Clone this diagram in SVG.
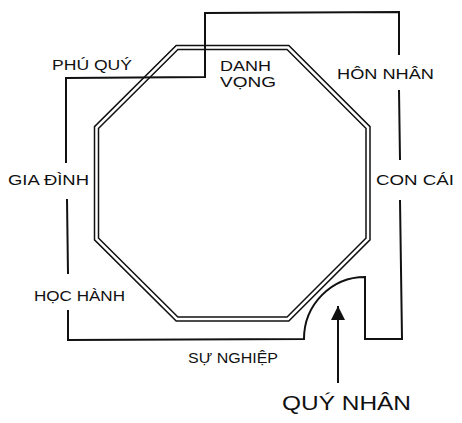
<svg xmlns="http://www.w3.org/2000/svg" width="462" height="423" viewBox="0 0 462 423">
<defs>
<style>
text{font-family:"Liberation Sans",Arial,sans-serif;font-size:15px;fill:#111;}
.big{font-size:21px;}
.wire{fill:none;stroke:#111;stroke-width:2;stroke-linejoin:miter;}
.oct-o{fill:none;stroke:#111;stroke-width:5.5;stroke-linejoin:miter;}
.oct-i{fill:none;stroke:#fff;stroke-width:2.5;stroke-linejoin:miter;}
</style>
<marker id="ah" viewBox="0 0 14 16" refX="14" refY="7" markerWidth="14" markerHeight="16" markerUnits="userSpaceOnUse" orient="auto">
<path d="M0,0 L14,7 L0,14 Z" fill="#111"/>
</marker>
</defs>
<rect width="462" height="423" fill="#fff"/>
<g id="octagon">
<polygon class="oct-o" points="177,47.5 288,47.5 368,127.5 368,239 288,319 177,319 96.5,239 96.5,127.5"/>
<polygon class="oct-i" points="177,47.5 288,47.5 368,127.5 368,239 288,319 177,319 96.5,239 96.5,127.5"/>
</g>
<g id="connectors">
<path class="wire" d="M66,163 L66,78 L205,77 L205,13 L399,12 L399,55 M399,90 L400,160 M400,200 L402,339 L365,339 L365,277 A61,62 0 0 0 304,339 L68,340 L68,310 M68,274 L67,199"/>
<path class="wire" d="M338,383 L338,306" marker-end="url(#ah)"/>
</g>
<g id="phu-quy"><text x="52" y="70" textLength="80" lengthAdjust="spacingAndGlyphs">PHÚ QUÝ</text></g>
<g id="danh-vong"><text x="220" y="71" textLength="51" lengthAdjust="spacingAndGlyphs">DANH</text><text x="220" y="87" textLength="56" lengthAdjust="spacingAndGlyphs">VỌNG</text></g>
<g id="hon-nhan"><text x="337" y="79" textLength="97" lengthAdjust="spacingAndGlyphs">HÔN NHÂN</text></g>
<g id="con-cai"><text x="376" y="185" textLength="78" lengthAdjust="spacingAndGlyphs">CON CÁI</text></g>
<g id="gia-dinh"><text x="8" y="185" textLength="81" lengthAdjust="spacingAndGlyphs">GIA ĐÌNH</text></g>
<g id="hoc-hanh"><text x="34" y="301" textLength="91" lengthAdjust="spacingAndGlyphs">HỌC HÀNH</text></g>
<g id="su-nghiep"><text x="188" y="363" textLength="90" lengthAdjust="spacingAndGlyphs">SỰ NGHIỆP</text></g>
<g id="quy-nhan"><text class="big" x="282" y="410" textLength="129" lengthAdjust="spacingAndGlyphs">QUÝ NHÂN</text></g>
</svg>
